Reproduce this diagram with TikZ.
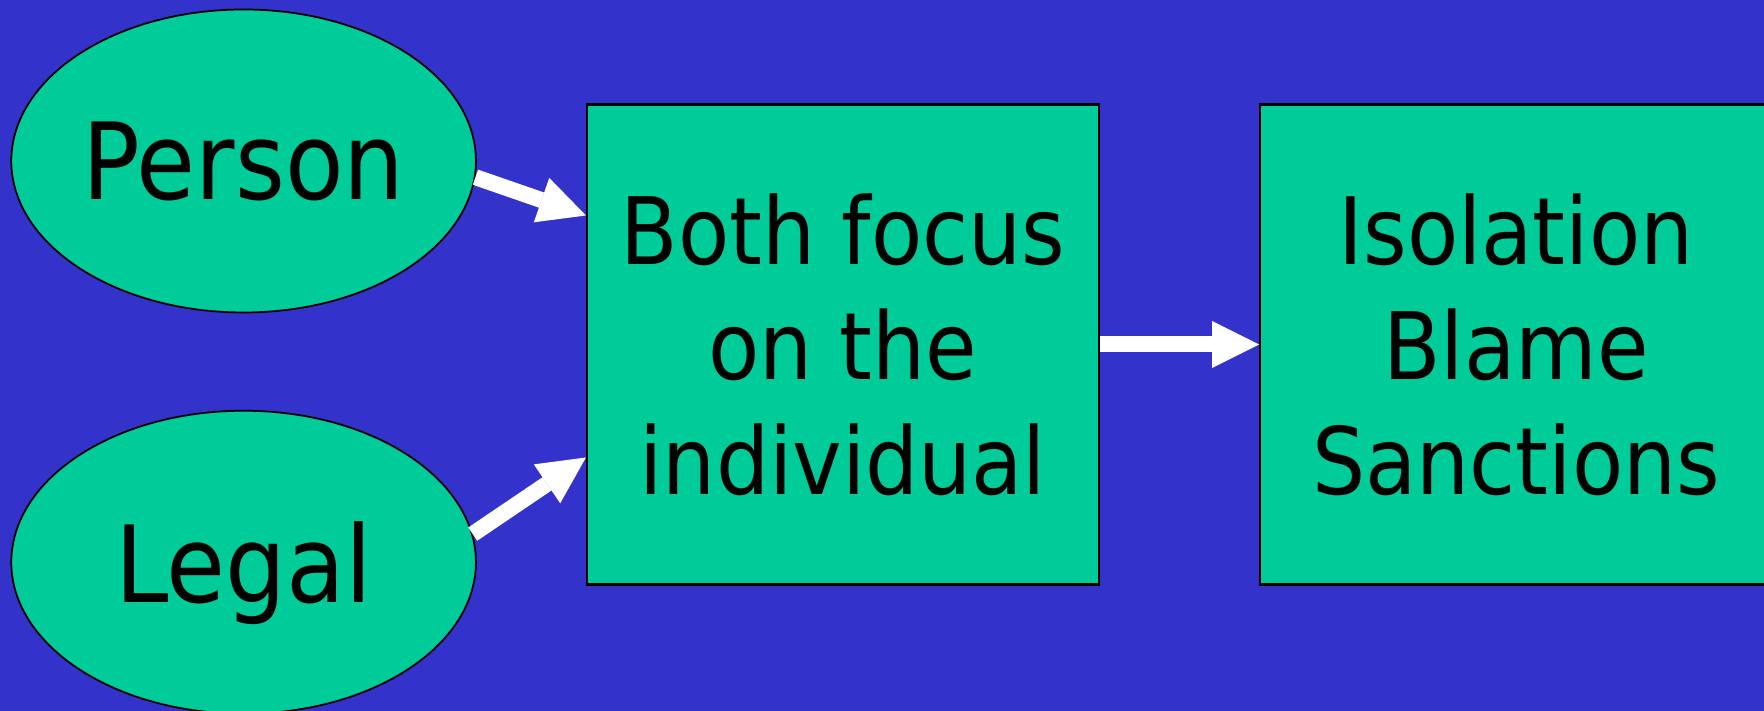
\documentclass[tikz,border=0pt]{standalone}
\usepackage{xcolor}
\usepackage{fontspec}
\setmainfont{DejaVu Sans Condensed}
\usepackage{tikz}
\usetikzlibrary{arrows.meta,positioning,shapes.geometric}
\definecolor{slideBlue}{HTML}{3333CC}
\definecolor{shapeGreen}{HTML}{00CC99}

\begin{document}
\begin{tikzpicture}[>={Triangle[length=0.47cm, width=0.47cm, line width=0pt]},
  oval/.style={ellipse, draw=black, line width=0.5pt, fill=shapeGreen, minimum width=4.646cm, minimum height=3.03cm, inner sep=0pt, text depth=0pt, font=\fontsize{30.3}{36}\selectfont},
  panel/.style={rectangle, draw=black, line width=0.6pt, fill=shapeGreen, minimum width=5.12cm, minimum height=4.8cm, inner sep=0pt, align=center, font=\fontsize{26.5}{32.7}\selectfont},
  blockArrow/.style={->, white, line width=0.16cm}]
\useasboundingbox (0,0) rectangle (17.64,7.11);
\fill[slideBlue] (0,0) rectangle (17.64,7.11);
\node[oval] (person) at (2.436,5.50) {Person};
\node[oval, below=0.965cm of person] (legal) {Legal};
\node[panel] (focus) at (8.43,3.665) {Both focus\\on the\\individual};
\node[panel, right=1.59cm of focus] (result) {Isolation\\Blame\\Sanctions};
\draw[blockArrow] (person.-4) -- ([yshift=1.29cm]focus.west);
\draw[blockArrow] (legal.7) -- ([yshift=-1.13cm]focus.west);
\draw[blockArrow] (focus.east) -- (result.west);
\end{tikzpicture}
\end{document}
